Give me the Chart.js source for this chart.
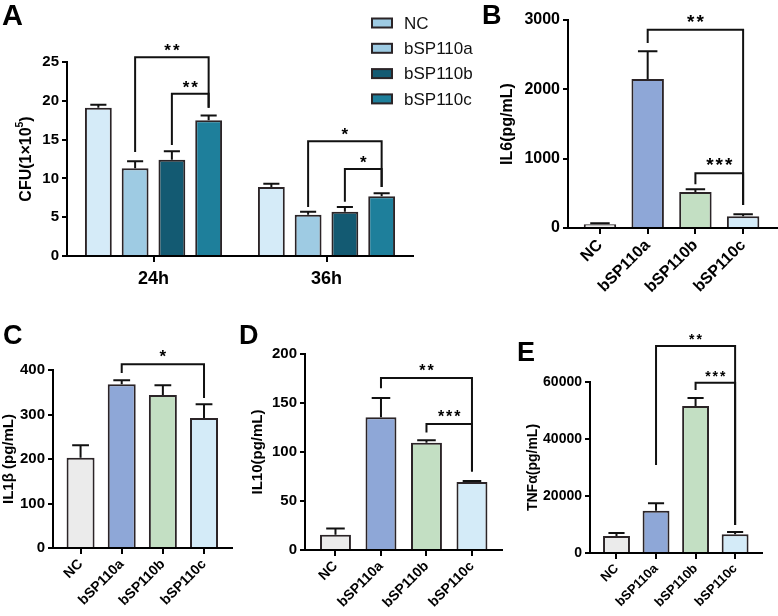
<!DOCTYPE html>
<html>
<head>
<meta charset="utf-8">
<script src="https://cdn.jsdelivr.net/npm/chart.js@4.4.1/dist/chart.umd.min.js"></script>
<style>
  body { margin: 0; background: #fff; width: 778px; height: 616px; position: relative; overflow: hidden; font-family: "Liberation Sans", Arial, sans-serif; }
  canvas { position: absolute; }
  .lab { position: absolute; font-weight: bold; font-size: 27px; line-height: 1; }
</style>
</head>
<body>
<canvas id="cA" width="478" height="300" style="left:0;top:0"></canvas>
<canvas id="cB" width="298" height="310" style="left:480px;top:0"></canvas>
<canvas id="cC" width="245" height="306" style="left:0;top:310px"></canvas>
<canvas id="cD" width="258" height="306" style="left:245px;top:310px"></canvas>
<canvas id="cE" width="273" height="306" style="left:505px;top:310px"></canvas>
<div class="lab" style="left:2px;top:1px;font-size:29px">A</div>
<div class="lab" style="left:482px;top:2px">B</div>
<div class="lab" style="left:3px;top:322px">C</div>
<div class="lab" style="left:239px;top:322px">D</div>
<div class="lab" style="left:517px;top:339px">E</div>
<script>
const fam = '"Liberation Sans", Arial, sans-serif';
Chart.defaults.font.family = fam;
Chart.defaults.color = "#000";

const groups = ["NC", "bSP110a", "bSP110b", "bSP110c"];
const times = ["24h", "36h"];

// A: CFU, mean and upper error
const cfuNC = [19.1, 8.9];
const cfuA = [11.3, 5.3];
const cfuB = [12.4, 5.7];
const cfuC = [17.5, 7.7];
const cfuNCErr = [0.4, 0.4];
const cfuAErr = [0.9, 0.4];
const cfuBErr = [1.1, 0.6];
const cfuCErr = [0.6, 0.4];

// B-E cytokines
const il6 = [55, 2150, 520, 170];
const il6Err = [12, 400, 40, 30];
const il1b = [203, 368, 344, 292];
const il1bErr = [28, 9, 22, 31];
const il10 = [15.5, 135.5, 109.5, 69.5];
const il10Err = [6.5, 19.5, 2.5, 0.8];
const tnfa = [5960, 14800, 51600, 6600];
const tnfaErr = [1040, 2700, 2800, 800];

// significance brackets: [dataset, index], heights in data units
const cfuSig = [
  { from: [1, 0], to: [3, 0], top: 25.6, endFrom: 13.4, endTo: 19.1, mark: "**" },
  { from: [2, 0], to: [3, 0], top: 20.9, endFrom: 14.3, endTo: 19.1, mark: "**" },
  { from: [1, 1], to: [3, 1], top: 14.8, endFrom: 6.3, endTo: 8.9, mark: "*" },
  { from: [2, 1], to: [3, 1], top: 11.2, endFrom: 7.0, endTo: 8.9, mark: "*" },
];
const il6Sig = [
  { from: [0, 1], to: [0, 3], top: 2860, endFrom: 2670, endTo: 330, mark: "**" },
  { from: [0, 2], to: [0, 3], top: 790, endFrom: 630, endTo: 330, mark: "***" },
];
const il1bSig = [
  { from: [0, 1], to: [0, 3], top: 413, endFrom: 393, endTo: 337, mark: "*" },
];
const il10Sig = [
  { from: [0, 1], to: [0, 3], top: 175.5, endFrom: 165, endTo: 80, mark: "**" },
  { from: [0, 2], to: [0, 3], top: 128.6, endFrom: 120, endTo: 80, mark: "***" },
];
const tnfaSig = [
  { from: [0, 1], to: [0, 3], top: 72600, endFrom: 30900, endTo: 9800, mark: "**" },
  { from: [0, 2], to: [0, 3], top: 59700, endFrom: 57200, endTo: 9800, mark: "***" },
];

const cfuColors = ["#d5ebf8", "#9ecbe3", "#135a72", "#1e7f9b"];
const legendColors = ["#9ecbe3", "#9ecbe3", "#135a72", "#1e7f9b"];
const cytoColors = ["#ebebeb", "#8ea7d7", "#c3dfc3", "#d4ebf8"];
const edge = "#2b2427";

const decor = {
  id: "decor",
  afterDatasetsDraw(chart, args, o) {
    const ctx = chart.ctx, ys = chart.scales.y;
    ctx.save();
    ctx.strokeStyle = "#111";
    ctx.lineWidth = 2;
    chart.data.datasets.forEach((ds, di) => {
      chart.getDatasetMeta(di).data.forEach((bar, i) => {
        const yTop = ys.getPixelForValue(ds.mean[i] + ds.err[i]);
        const half = bar.width * 0.3;
        ctx.beginPath();
        ctx.moveTo(bar.x, bar.y);
        ctx.lineTo(bar.x, yTop);
        ctx.moveTo(bar.x - half, yTop);
        ctx.lineTo(bar.x + half, yTop);
        ctx.stroke();
      });
    });
    ctx.fillStyle = "#000";
    ctx.font = "bold " + o.starSize + "px " + fam;
    ctx.letterSpacing = o.starSpace + "px";
    ctx.textAlign = "center";
    ctx.textBaseline = "alphabetic";
    o.sig.forEach((s) => {
      const pa = chart.getDatasetMeta(s.from[0]).data[s.from[1]];
      const pb = chart.getDatasetMeta(s.to[0]).data[s.to[1]];
      const yt = ys.getPixelForValue(s.top);
      ctx.beginPath();
      ctx.moveTo(pa.x, ys.getPixelForValue(s.endFrom));
      ctx.lineTo(pa.x, yt);
      ctx.lineTo(pb.x, yt);
      ctx.lineTo(pb.x, ys.getPixelForValue(s.endTo));
      ctx.stroke();
      ctx.fillText(s.mark, (pa.x + pb.x) / 2 + o.starSpace / 2, yt - o.starGap);
    });
    ctx.restore();
  },
  afterDraw(chart, args, o) {
    const ctx = chart.ctx, area = chart.chartArea;
    ctx.save();
    // rotated y title, with optional superscript part
    const t = o.title;
    ctx.translate(t.x, (area.top + area.bottom) / 2);
    ctx.rotate(-Math.PI / 2);
    ctx.fillStyle = "#000";
    ctx.textBaseline = "middle";
    let w = 0;
    t.parts.forEach((p) => {
      ctx.font = "bold " + (p.sup ? t.size * 0.65 : t.size) + "px " + fam;
      w += ctx.measureText(p.text).width;
    });
    let x = -w / 2;
    t.parts.forEach((p) => {
      ctx.font = "bold " + (p.sup ? t.size * 0.65 : t.size) + "px " + fam;
      ctx.fillText(p.text, x, p.sup ? -t.size * 0.4 : 0);
      x += ctx.measureText(p.text).width;
    });
    ctx.restore();
    if (o.legend) {
      const L = o.legend;
      ctx.save();
      ctx.font = "17px " + fam;
      ctx.textBaseline = "middle";
      chart.data.datasets.forEach((ds, i) => {
        const y = L.y + i * L.dy;
        ctx.fillStyle = L.colors[i];
        ctx.fillRect(L.x, y - 4.5, 20, 9);
        ctx.strokeStyle = edge;
        ctx.lineWidth = 2;
        ctx.strokeRect(L.x, y - 4.5, 20, 9);
        ctx.fillStyle = "#111";
        ctx.fillText(ds.label, L.x + 32, y + 1);
      });
      ctx.restore();
    }
  },
};

function axisStyle() {
  return {
    border: { color: "#000", width: 2 },
    grid: { drawOnChartArea: false, color: "#000", lineWidth: 2, tickLength: 5 },
  };
}

// Panel A
const cfuSets = [
  [cfuNC, cfuNCErr],
  [cfuA, cfuAErr],
  [cfuB, cfuBErr],
  [cfuC, cfuCErr],
];
new Chart(document.getElementById("cA"), {
  type: "bar",
  data: {
    labels: times,
    datasets: cfuSets.map((s, i) => ({
      label: groups[i],
      data: s[0],
      mean: s[0],
      err: s[1],
      backgroundColor: cfuColors[i],
      borderColor: edge,
      borderWidth: 2,
      borderSkipped: "start",
      categoryPercentage: 0.85,
      barPercentage: 0.73,
    })),
  },
  options: {
    responsive: false,
    animation: false,
    layout: { padding: { left: 0, top: 62, right: 65, bottom: 0 } },
    plugins: {
      legend: { display: false },
      tooltip: { enabled: false },
      decor: {
        sig: cfuSig, starSize: 17, starSpace: 2, starGap: 1,
        title: { x: 27, size: 16, parts: [{ text: "CFU(1×10" }, { text: "5", sup: true }, { text: ")" }] },
        legend: { x: 372, y: 23, dy: 25.3, colors: legendColors },
      },
    },
    scales: {
      x: {
        ...axisStyle(),
        grid: { drawOnChartArea: false, offset: false, color: "#000", lineWidth: 2, tickLength: 6 },
        afterFit: (s) => { s.height = 44; },
        ticks: { font: { size: 18, weight: "bold" }, padding: 6 },
      },
      y: {
        ...axisStyle(),
        min: 0, max: 25,
        afterFit: (s) => { s.width = 67; },
        ticks: { stepSize: 5, font: { size: 15, weight: "bold" }, padding: 3 },
      },
    },
  },
  plugins: [decor],
});

// Panels B-E
function cytoChart(id, p) {
  return new Chart(document.getElementById(id), {
    type: "bar",
    data: {
      datasets: [{
        data: p.values.map((v, i) => ({ x: i, y: v })),
        mean: p.values,
        err: p.err,
        backgroundColor: cytoColors,
        borderColor: edge,
        borderWidth: 2,
        borderSkipped: "start",
        categoryPercentage: 1,
        barPercentage: 0.68,
      }],
    },
    options: {
      responsive: false,
      animation: false,
      layout: { padding: { left: 0, top: p.top, right: p.right, bottom: 0 } },
      plugins: {
        legend: { display: false },
        tooltip: { enabled: false },
        decor: { sig: p.sig, starSize: p.star, starSpace: 2, starGap: 2, title: p.title },
      },
      scales: {
        x: {
          ...axisStyle(),
          type: "linear",
          offset: false,
          min: -0.67, max: p.xmax,
          grid: { drawOnChartArea: false, offset: false, color: "#000", lineWidth: 2, tickLength: 6 },
          afterFit: (s) => { s.height = p.xH; },
          afterBuildTicks: (s) => { s.ticks = groups.map((g, i) => ({ value: i })); },
          ticks: {
            callback: (v) => groups[v],
            autoSkip: false, minRotation: 45, maxRotation: 45,
            font: { size: p.xFont, weight: "bold" }, padding: 2,
          },
        },
        y: {
          ...axisStyle(),
          min: 0, max: p.max,
          afterFit: (s) => { s.width = p.yW; },
          ticks: { stepSize: p.step, callback: (v) => String(v), font: { size: p.yFont, weight: "bold" }, padding: 3 },
        },
      },
    },
    plugins: [decor],
  });
}

cytoChart("cB", {
  values: il6, err: il6Err, sig: il6Sig, max: 3000, step: 1000,
  top: 20, right: 1, yW: 88, xH: 82, xmax: 3.71, xFont: 16, yFont: 16, star: 19,
  title: { x: 28, size: 16, parts: [{ text: "IL6(pg/mL)" }] },
});
cytoChart("cC", {
  values: il1b, err: il1bErr, sig: il1bSig, max: 400, step: 100,
  top: 60, right: 13, yW: 53, xH: 68, xmax: 3.68, xFont: 14, yFont: 15, star: 17,
  title: { x: 9, size: 15, parts: [{ text: "IL1β (pg/mL)" }] },
});
cytoChart("cD", {
  values: il10, err: il10Err, sig: il10Sig, max: 200, step: 50,
  top: 44, right: 1, yW: 60, xH: 66, xmax: 3.66, xFont: 14, yFont: 15, star: 16,
  title: { x: 13, size: 15, parts: [{ text: "IL10(pg/mL)" }] },
});
cytoChart("cE", {
  values: tnfa, err: tnfaErr, sig: tnfaSig, max: 60000, step: 20000,
  top: 72, right: 16, yW: 85, xH: 63, xmax: 3.68, xFont: 13, yFont: 14, star: 14,
  title: { x: 28, size: 14, parts: [{ text: "TNFα(pg/mL)" }] },
});
</script>
</body>
</html>
